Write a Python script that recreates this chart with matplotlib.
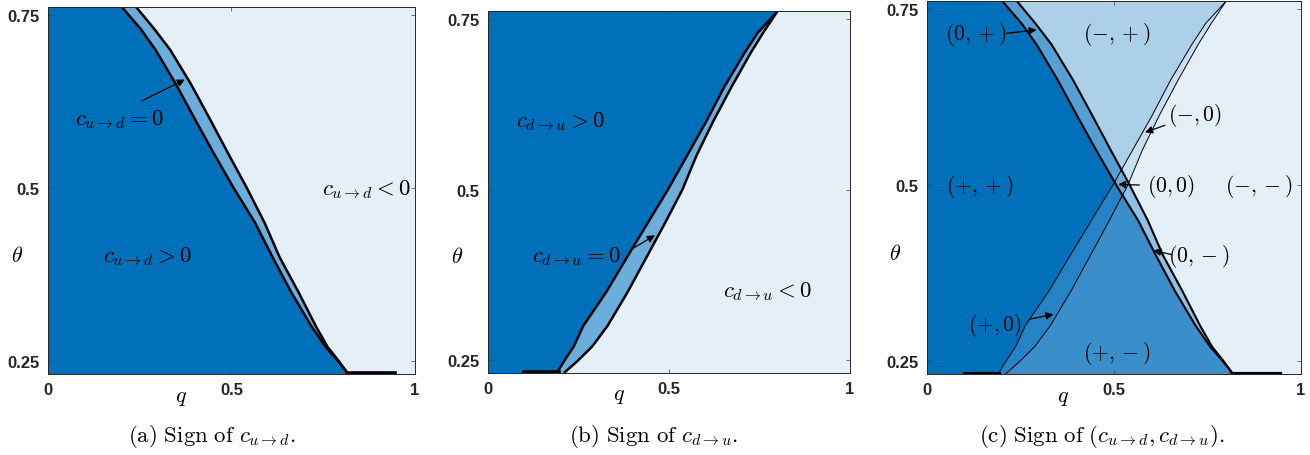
import numpy as np
import matplotlib
matplotlib.use("Agg")
import matplotlib.pyplot as plt
from matplotlib.colors import ListedColormap

plt.rcParams['mathtext.fontset'] = 'cm'

# boundary of the sign regions (q at given theta)
theta = [0.231, 0.25, 0.27, 0.30, 0.35, 0.40, 0.45, 0.50, 0.55, 0.60, 0.65, 0.70, 0.73, 0.762]
# c_{u->d} = 0 band: left edge (c>0 side) and right edge (c<0 side)
ud_lo = [0.818, 0.790, 0.757, 0.718, 0.662, 0.612, 0.564, 0.506, 0.452, 0.400, 0.349, 0.293, 0.253, 0.201]
ud_hi = [0.818, 0.792, 0.762, 0.730, 0.682, 0.631, 0.590, 0.542, 0.491, 0.441, 0.390, 0.333, 0.290, 0.240]
# c_{d->u} = 0 band
du_lo = [0.190, 0.212, 0.237, 0.263, 0.327, 0.383, 0.440, 0.497, 0.550, 0.603, 0.652, 0.708, 0.745, 0.800]
du_hi = [0.210, 0.250, 0.288, 0.330, 0.386, 0.437, 0.488, 0.537, 0.576, 0.622, 0.672, 0.725, 0.760, 0.800]
# zero level lying along the bottom edge
ud_floor = [0.814, 0.945]
du_floor = [0.100, 0.195]

q_lim = (0.0, 1.0)
theta_lim = (0.231, 0.762)

xticks = [0, 0.5, 1]
xticklabels = ['0', '0.5', '1']
yticks = [0.25, 0.5, 0.75]
yticklabels = ['0.25', '0.5', '0.75']

# colours: light (negative) -> dark (positive)
colors_1 = ['#E4EFF8', '#6CAEDB', '#0070BA']
colors_2 = ['#E4EFF8', '#C8DFF2', '#ABD0E8', '#8DC0E4', '#6CAEDB',
            '#559FD5', '#3A8FCB', '#2482C5', '#0070BA']

captions = [r'$\mathrm{(a)\ Sign\ of\ }c_{u\rightarrow d}.$',
            r'$\mathrm{(b)\ Sign\ of\ }c_{d\rightarrow u}.$',
            r'$\mathrm{(c)\ Sign\ of\ }(c_{u\rightarrow d},c_{d\rightarrow u}).$']


def sign_grid(qq, tt, lo, hi):
    lo_q = np.interp(tt, theta, lo)[:, None]
    hi_q = np.interp(tt, theta, hi)[:, None]
    q2 = qq[None, :]
    return np.where(q2 < lo_q, 1, np.where(q2 > hi_q, -1, 0))


def style_axes(ax):
    ax.set_xlim(*q_lim)
    ax.set_ylim(*theta_lim)
    ax.set_xticks(xticks)
    ax.set_xticklabels(xticklabels)
    ax.set_yticks(yticks)
    ax.set_yticklabels(yticklabels)
    ax.tick_params(direction='in', length=3, width=0.5, color='#404040',
                   top=True, right=True, pad=6)
    for lab in ax.get_xticklabels() + ax.get_yticklabels():
        lab.set_fontfamily('Liberation Sans')
        lab.set_fontweight('bold')
        lab.set_fontsize(12)
        lab.set_color('#262626')
    for sp in ax.spines.values():
        sp.set_color('#262626')
        sp.set_linewidth(0.7)
    ax.text(-0.085, 0.403, r'$\theta$', fontsize=16, ha='center', va='center')
    ax.text(0.363, 0.198, r'$q$', fontsize=16, ha='center', va='center', clip_on=False)


def draw_band(ax, lo, hi, floor, lw):
    ax.plot(lo, theta, color='k', lw=lw, solid_capstyle='butt')
    ax.plot(hi, theta, color='k', lw=lw, solid_capstyle='butt')
    ax.plot(floor, [theta_lim[0] + 0.002] * 2, color='k', lw=lw + 0.8)


def arrow(ax, tail, head):
    ax.annotate('', xy=head, xytext=tail,
                arrowprops=dict(arrowstyle='-|>', color='k', lw=0.9,
                                mutation_scale=11, shrinkA=0, shrinkB=0))


qq = np.linspace(q_lim[0], q_lim[1], 1200)
tt = np.linspace(theta_lim[0], theta_lim[1], 1200)
s_ud = sign_grid(qq, tt, ud_lo, ud_hi)
s_du = sign_grid(qq, tt, du_lo, du_hi)
extent = [q_lim[0], q_lim[1], theta_lim[0], theta_lim[1]]

fig = plt.figure(figsize=(13.1, 4.56), dpi=100)
ax_a = fig.add_axes([48 / 1310, 1 - 375 / 456, 367 / 1310, 367 / 456])
ax_b = fig.add_axes([488 / 1310, 1 - 374 / 456, 362 / 1310, 362 / 456])
ax_c = fig.add_axes([927 / 1310, 1 - 375 / 456, 374 / 1310, 373 / 456])

# (a)
ax_a.imshow(s_ud + 1, extent=extent, origin='lower', aspect='auto',
            interpolation='nearest', cmap=ListedColormap(colors_1), vmin=-0.5, vmax=2.5)
draw_band(ax_a, ud_lo, ud_hi, ud_floor, 1.8)
ax_a.text(0.196, 0.601, r'$c_{u\rightarrow d}=0$', fontsize=16.5, ha='center', va='center')
arrow(ax_a, (0.255, 0.626), (0.373, 0.657))
ax_a.text(0.869, 0.500, r'$c_{u\rightarrow d}<0$', fontsize=16.5, ha='center', va='center')
ax_a.text(0.270, 0.402, r'$c_{u\rightarrow d}>0$', fontsize=16.5, ha='center', va='center')

# (b)
ax_b.imshow(s_du + 1, extent=extent, origin='lower', aspect='auto',
            interpolation='nearest', cmap=ListedColormap(colors_1), vmin=-0.5, vmax=2.5)
draw_band(ax_b, du_lo, du_hi, du_floor, 1.8)
ax_b.text(0.199, 0.601, r'$c_{d\rightarrow u}>0$', fontsize=16.5, ha='center', va='center')
ax_b.text(0.243, 0.403, r'$c_{d\rightarrow u}=0$', fontsize=16.5, ha='center', va='center')
arrow(ax_b, (0.392, 0.411), (0.461, 0.433))
ax_b.text(0.771, 0.352, r'$c_{d\rightarrow u}<0$', fontsize=16.5, ha='center', va='center')

# (c)
ax_c.imshow(3 * (s_ud + 1) + (s_du + 1), extent=extent, origin='lower', aspect='auto',
            interpolation='nearest', cmap=ListedColormap(colors_2), vmin=-0.5, vmax=8.5)
draw_band(ax_c, ud_lo, ud_hi, ud_floor, 1.5)
draw_band(ax_c, du_lo, du_hi, du_floor, 0.7)
labels_c = [('(0,+)', 0.131, 0.716), ('(-,+)', 0.508, 0.716), ('(-,0)', 0.717, 0.600),
            ('(+,+)', 0.142, 0.499), ('(0,0)', 0.652, 0.499), ('(-,-)', 0.888, 0.499),
            ('(0,-)', 0.727, 0.400), ('(+,0)', 0.182, 0.302), ('(+,-)', 0.508, 0.261)]
for txt, x, y in labels_c:
    ax_c.text(x, y, '$' + txt + '$', fontsize=15.5, ha='center', va='center')
arrow(ax_c, (0.213, 0.716), (0.293, 0.721))
arrow(ax_c, (0.636, 0.585), (0.583, 0.575))
arrow(ax_c, (0.568, 0.500), (0.511, 0.501))
arrow(ax_c, (0.654, 0.401), (0.605, 0.407))
arrow(ax_c, (0.274, 0.309), (0.338, 0.316))

for ax in (ax_a, ax_b, ax_c):
    style_axes(ax)

fig.text(212 / 1310, 1 - 437 / 456, captions[0], fontsize=16.5, ha='center', va='center')
fig.text(654 / 1310, 1 - 437 / 456, captions[1], fontsize=16.5, ha='center', va='center')
fig.text(1102 / 1310, 1 - 437 / 456, captions[2], fontsize=16.5, ha='center', va='center')

fig.savefig('out.png', dpi=100)
